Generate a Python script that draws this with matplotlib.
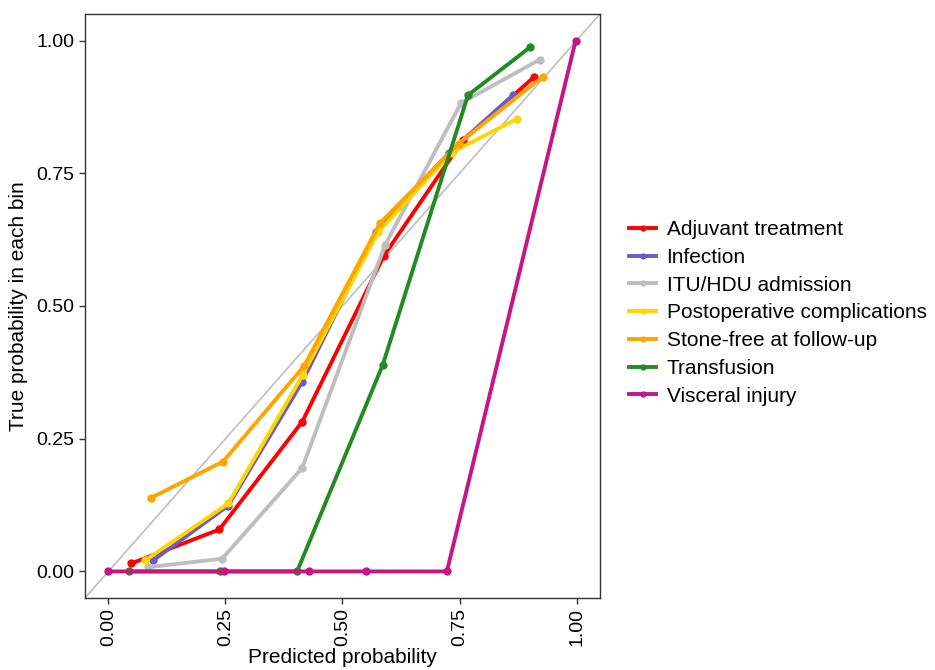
import numpy as np
import matplotlib
matplotlib.use("Agg")
import matplotlib.pyplot as plt

plt.rcParams['font.family'] = ['Liberation Sans', 'DejaVu Sans']

# calibration data (predicted, observed) per outcome
series_names = [
    "Adjuvant treatment",
    "Infection",
    "ITU/HDU admission",
    "Postoperative complications",
    "Stone-free at follow-up",
    "Transfusion",
    "Visceral injury",
]
adjuvant_x = [0.049, 0.237, 0.414, 0.588, 0.757, 0.910]
adjuvant_y = [0.015, 0.079, 0.282, 0.594, 0.812, 0.932]
infection_x = [0.096, 0.256, 0.414, 0.571, 0.727, 0.864]
infection_y = [0.021, 0.124, 0.357, 0.639, 0.788, 0.897]
itu_x = [0.085, 0.243, 0.414, 0.591, 0.753, 0.921]
itu_y = [0.008, 0.024, 0.195, 0.615, 0.882, 0.964]
postop_x = [0.079, 0.256, 0.415, 0.576, 0.733, 0.872]
postop_y = [0.021, 0.128, 0.370, 0.639, 0.789, 0.852]
stonefree_x = [0.092, 0.245, 0.418, 0.580, 0.748, 0.928]
stonefree_y = [0.139, 0.207, 0.387, 0.656, 0.806, 0.932]
transfusion_x = [0.043, 0.239, 0.403, 0.586, 0.768, 0.900]
transfusion_y = [0.0, 0.0, 0.0, 0.389, 0.897, 0.987]
visceral_x = [0.0, 0.247, 0.429, 0.550, 0.723, 0.998]
visceral_y = [0.0, 0.0, 0.0, 0.0, 0.0, 1.0]

series_x = [adjuvant_x, infection_x, itu_x, postop_x, stonefree_x, transfusion_x, visceral_x]
series_y = [adjuvant_y, infection_y, itu_y, postop_y, stonefree_y, transfusion_y, visceral_y]
colors = ["#FF0000", "#6A5ACD", "#BEBEBE", "#FFD700", "#FFA500", "#228B22", "#C71585"]

ticks = [0.0, 0.25, 0.5, 0.75, 1.0]
tick_labels = ["0.00", "0.25", "0.50", "0.75", "1.00"]

fig = plt.figure(figsize=(9.35, 6.7), dpi=100)
ax = fig.add_axes([0.0909, 0.1075, 0.5508, 0.8716])

# reference diagonal
ax.plot([-0.1, 1.1], [-0.1, 1.1], color="#BEBEBE", linewidth=1.2, zorder=1)

for name, xs, ys, c in zip(series_names, series_x, series_y, colors):
    ax.plot(xs, ys, color=c, linewidth=2.8, marker="o", markersize=5,
            label=name, zorder=2)

ax.set_xlim(-0.05, 1.05)
ax.set_ylim(-0.05, 1.05)
ax.set_xticks(ticks)
ax.set_xticklabels(tick_labels, rotation=90, fontsize=14)
ax.set_yticks(ticks)
ax.set_yticklabels(tick_labels, fontsize=14)
ax.tick_params(colors="#333333", length=4, width=1, labelcolor="black")
for sp in ax.spines.values():
    sp.set_color("#333333")
    sp.set_linewidth(1.0)

ax.set_xlabel("Predicted probability", fontsize=15, labelpad=1)
ax.set_ylabel("True probability in each bin", fontsize=15, labelpad=6)

ax.legend(loc="center left", bbox_to_anchor=(1.02, 0.488), frameon=False,
          fontsize=15, handlelength=1.3, handletextpad=0.5, labelspacing=0.42,
          markerscale=0.7)

fig.savefig("out.png", dpi=100)
